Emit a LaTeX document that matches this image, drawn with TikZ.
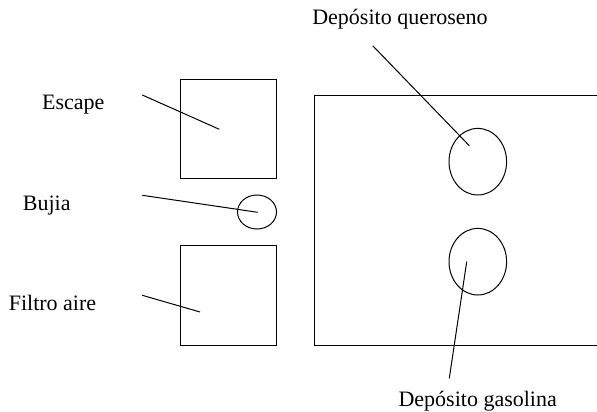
\documentclass[tikz,border=0pt]{standalone}
\usepackage{fontspec}
\setmainfont{Liberation Serif}
\usetikzlibrary{shapes.geometric}
\begin{document}
\begin{tikzpicture}[x=1pt,y=-1pt,
  lbl/.style={anchor=base,inner sep=0pt,font=\fontsize{22}{26}\selectfont},
  shp/.style={draw,line width=1pt,inner sep=0pt},
  ptr/.style={line width=1pt}]
\useasboundingbox (0,0) rectangle (597,412);
% boxes
\node[shp,minimum width=96pt,minimum height=99pt] (escbox) at (228.3,128.7) {};
\node[shp,minimum width=96pt,minimum height=100pt] (filbox) at (228.3,295) {};
\node[shp,ellipse,minimum width=39pt,minimum height=34pt] (bujia) at (257,212) {};
\draw[line width=1pt] (314.7,95.7) rectangle (600,345);
\node[shp,ellipse,minimum width=57.6pt,minimum height=66.6pt] (quer) at (477.8,161.7) {};
\node[shp,ellipse,minimum width=57.6pt,minimum height=66.6pt] (gas) at (477.8,261.7) {};
% labels
\node[lbl] (tesc) at (73.3,110) {Escape};
\node[lbl] (tbuj) at (46.7,210) {Bujia};
\node[lbl] (tfil) at (52.5,310.7) {Filtro aire};
\node[lbl] (tquer) at (400,25) {Depósito queroseno};
\node[lbl] (tgas) at (477.7,406.7) {Depósito gasolina};
% connector points
\coordinate (a1) at (142.3,95);   \coordinate (a2) at (219.3,129.3);
\coordinate (b1) at (142.3,195.3);\coordinate (b2) at (257.7,212.3);
\coordinate (c1) at (142.3,295.3);\coordinate (c2) at (200,312);
\coordinate (d1) at (372.7,45.7); \coordinate (d2) at (469.3,145.7);
\coordinate (e1) at (449.3,378.3);\coordinate (e2) at (466.7,261.7);
\draw[ptr] (a1) -- (a2);
\draw[ptr] (b1) -- (b2);
\draw[ptr] (c1) -- (c2);
\draw[ptr] (d1) -- (d2);
\draw[ptr] (e1) -- (e2);
\end{tikzpicture}
\end{document}
